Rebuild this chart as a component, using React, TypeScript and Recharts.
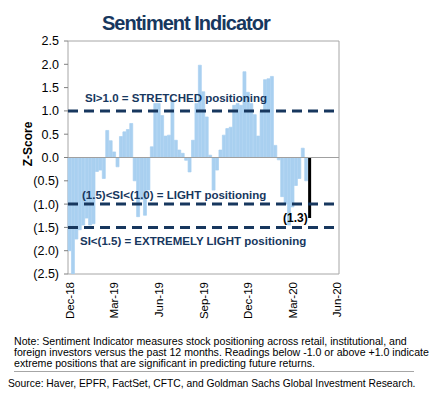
import { BarChart, Bar, XAxis, YAxis, ReferenceLine, ReferenceArea, Cell } from 'recharts';

// weekly z-scores, Dec-18 .. May-20
const sentiment = [
  -2.0, -2.5, -1.75, -1.55, -1.45, -1.3, -1.45, -1.42, -0.3, -0.27,
  -0.45, 0.58, 0.36, 0.12, -0.2, 0.45, 0.55, 0.6, 0.73, -0.5,
  -1.27, -0.9, -1.24, -0.7, 0.23, 1.16, 1.16, 0.9, 0.46, 0.48,
  1.23, 0.37, 0.16, 0.09, -0.06, -0.31, 0.37, 1.16, 1.98, 1.41,
  0.87, 0.05, -0.7, -0.27, 0.16, 0.48, 0.62, 0.65, 1.12, 1.16,
  1.12, 1.84, 1.4, 1.16, 0.92, 0.46, 1.0, 1.67, 1.69, 1.74,
  0.26, -0.05, -0.84, -1.0, -1.45, -1.06, -0.6, -0.45, 0.2, -0.5,
];
const latestReading = -1.3;
const totalWeeks = 79;
const tickLabels = ['Dec-18', 'Mar-19', 'Jun-19', 'Sep-19', 'Dec-19', 'Mar-20', 'Jun-20'];
const yTicks = [2.5, 2, 1.5, 1, 0.5, 0, -0.5, -1, -1.5, -2, -2.5];
const thresholds = [1.0, -1.0, -1.5];

const data = Array.from({ length: totalWeeks }, (_, i) => ({
  week: i,
  value: i < sentiment.length ? sentiment[i] : i === sentiment.length ? latestReading : null,
  latest: i === sentiment.length,
}));

const FONT = '"Liberation Sans", Arial, sans-serif';
const NAVY = '#17375e';
const BAR = '#a9d0f0';

function fmtZ(v: number) {
  return v < 0 ? `(${Math.abs(v).toFixed(1)})` : v.toFixed(1);
}

function WeekTick(props: any) {
  const { x, y, payload } = props;
  const label = tickLabels[Math.round(payload.value / 13)] ?? '';
  return (
    <text x={x} y={y} transform={`rotate(-90 ${x} ${y})`} textAnchor="end" dy="0.35em"
      fontSize={11.5} fill="#000" fontFamily={FONT}>
      {label}
    </text>
  );
}

const note = [
  'Note: Sentiment Indicator measures stock positioning across retail, institutional, and',
  'foreign investors versus the past 12 months. Readings below -1.0 or above +1.0 indicate',
  'extreme positions that are significant in predicting future returns.',
];

export default function App() {
  const abs = (left: number, top: number, extra: React.CSSProperties = {}): React.CSSProperties => ({
    position: 'absolute', left, top, whiteSpace: 'nowrap', lineHeight: 1, fontFamily: FONT, ...extra,
  });
  const anno: React.CSSProperties = { fontSize: 11.5, fontWeight: 700, color: NAVY };

  return (
    <div style={{ position: 'absolute', left: 0, top: 0, width: 429, height: 397, background: '#fff', fontFamily: FONT }}>
      <div style={abs(102, 13, { fontSize: 20, fontWeight: 700, color: NAVY, letterSpacing: -1 })}>Sentiment Indicator</div>

      <BarChart width={429} height={330} data={data} barCategoryGap={0} barGap={0}
        margin={{ top: 41, right: 90, bottom: 6, left: 0 }}>
        <XAxis dataKey="week" interval={12} tickLine={false} axisLine={false} height={50}
          tick={(p: any) => <WeekTick {...p} />} />
        <YAxis type="number" domain={[-2.5, 2.5]} ticks={yTicks} interval={0} width={68}
          allowDataOverflow axisLine={false} tickSize={4} tickMargin={5}
          tickLine={{ stroke: '#808080' }} tickFormatter={fmtZ}
          tick={{ fontSize: 12.5, fill: '#000', fontFamily: FONT }} />
        <ReferenceArea y1={-2.5} y2={2.5} fill="none" stroke="#a6a6a6" strokeWidth={1} />
        <Bar dataKey="value" isAnimationActive={false}>
          {data.map((d) => (
            <Cell key={d.week} fill={d.latest ? '#000' : BAR}
              stroke={d.latest ? '#000' : BAR} strokeWidth={d.latest ? 0 : 0.7} />
          ))}
        </Bar>
        <ReferenceLine y={0} stroke="#a0a0a0" strokeWidth={1} />
        {thresholds.map((t) => (
          <ReferenceLine key={t} y={t} stroke={NAVY} strokeWidth={3} strokeDasharray="10 6" />
        ))}
      </BarChart>

      <div style={abs(28, 143.5, { fontSize: 12, fontWeight: 700, color: '#000', transform: 'translate(-50%, -50%) rotate(-90deg)' })}>Z-Score</div>
      <div style={abs(85, 93.3, anno)}>SI&gt;1.0 = STRETCHED positioning</div>
      <div style={abs(82, 190.3, anno)}>(1.5)&lt;SI&lt;(1.0) = LIGHT positioning</div>
      <div style={abs(80, 236.3, anno)}>SI&lt;(1.5) = EXTREMELY LIGHT positioning</div>
      <div style={abs(283, 211.8, { fontSize: 12, fontWeight: 700, color: '#000' })}>(1.3)</div>

      {note.map((line, k) => (
        <div key={k} style={abs(14, 336 + k * 11, { fontSize: 10.6, color: '#000' })}>{line}</div>
      ))}
      <div style={{ position: 'absolute', left: 14, top: 371, width: 400, height: 1, background: '#a6a6a6' }} />
      <div style={abs(8, 378.5, { fontSize: 10.3, color: '#000' })}>
        Source: Haver, EPFR, FactSet, CFTC, and Goldman Sachs Global Investment Research.
      </div>
    </div>
  );
}
